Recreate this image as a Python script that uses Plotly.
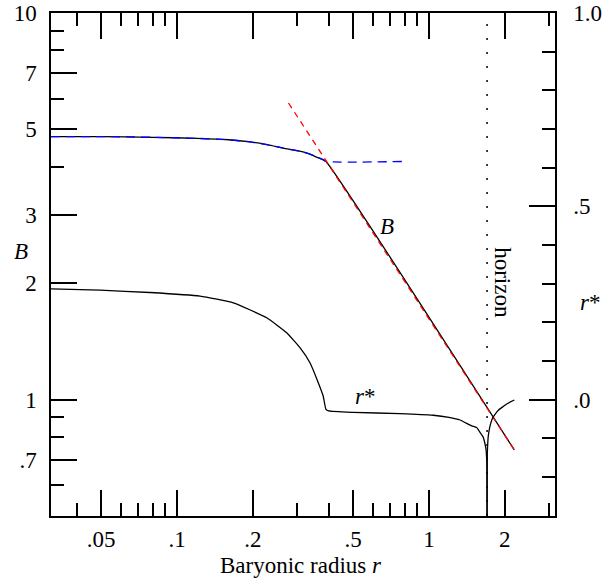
import plotly.graph_objects as go

# ---- data ----
# B curve (left axis, log): core part then 1/r power-law part
b_r = [0.0316, 0.05, 0.08, 0.12, 0.16, 0.195, 0.23, 0.264, 0.307, 0.335, 0.358, 0.375, 0.39, 2.18]
b_val = [4.79, 4.79, 4.77, 4.74, 4.70, 4.64, 4.56, 4.47, 4.39, 4.32, 4.24, 4.19, 4.13, 0.741]

# blue dashed: core model continued at constant B
core_r = [0.0316, 0.05, 0.08, 0.12, 0.16, 0.195, 0.23, 0.264, 0.307, 0.335, 0.358, 0.375, 0.39, 0.78]
core_val = [4.79, 4.79, 4.77, 4.74, 4.70, 4.64, 4.56, 4.47, 4.39, 4.32, 4.24, 4.19, 4.13, 4.13]

# red dashed: power-law asymptote
pl_r = [0.277, 2.18]
pl_val = [5.85, 0.741]

# r* curve (right axis, linear), left branch up to horizon
rs_r1 = [0.0316, 0.0495, 0.078, 0.1234, 0.1673, 0.227, 0.2724, 0.3076, 0.337, 0.3636,
         0.380, 0.390, 0.40, 0.5, 0.767, 1.04, 1.2, 1.327, 1.477, 1.545, 1.594, 1.643,
         1.658, 1.683, 1.694, 1.698, 1.6995]
rs_v1 = [0.2866, 0.283, 0.277, 0.2676, 0.2504, 0.2117, 0.173, 0.1343, 0.0955, 0.0439,
         0.010, -0.025, -0.0294, -0.033, -0.0362, -0.0405, -0.046, -0.0527, -0.068, -0.0723,
         -0.085, -0.098, -0.107, -0.128, -0.154, -0.22, -0.40]
# r* right branch beyond horizon
rs_r2 = [1.7005, 1.702, 1.704, 1.71, 1.719, 1.74, 1.762, 1.79, 1.828, 1.88, 1.943, 2.05, 2.18]
rs_v2 = [-0.40, -0.20, -0.137, -0.115, -0.094, -0.073, -0.059, -0.047, -0.038, -0.028,
         -0.0207, -0.010, -0.001]

horizon_r = 1.70
b_range = [0.5, 10]

x_ticks = [0.05, 0.1, 0.2, 0.5, 1, 2]
x_ticktext = [".05", ".1", ".2", ".5", "1", "2"]
x_minor = [0.04, 0.06, 0.07, 0.08, 0.09, 0.3, 0.4, 0.6, 0.7, 0.8, 0.9, 3]
y_ticks = [0.7, 1, 2, 3, 5, 7, 10]
y_ticktext = [".7", "1", "2", "3", "5", "7", "10"]
y_minor = [0.6, 0.8, 0.9, 4, 6, 8, 9]
y2_ticks = [0.0, 0.5, 1.0]
y2_ticktext = [".0", ".5", "1.0"]
y2_minor = [-0.2, -0.1, 0.1, 0.2, 0.3, 0.4, 0.6, 0.7, 0.8, 0.9]

FONT = "Liberation Serif"
FS = 23

fig = go.Figure()
fig.add_trace(go.Scatter(x=[horizon_r, horizon_r], y=b_range, mode="lines",
                         line=dict(color="black", width=1.5, dash="2px,12px"), yaxis="y"))
fig.add_trace(go.Scatter(x=b_r, y=b_val, mode="lines",
                         line=dict(color="black", width=1.3, shape="spline", smoothing=0.5), yaxis="y"))
fig.add_trace(go.Scatter(x=rs_r1, y=rs_v1, mode="lines",
                         line=dict(color="black", width=1.3, shape="spline", smoothing=0.4), yaxis="y2"))
fig.add_trace(go.Scatter(x=rs_r2, y=rs_v2, mode="lines",
                         line=dict(color="black", width=1.3, shape="spline", smoothing=0.4), yaxis="y2"))
fig.add_trace(go.Scatter(x=core_r, y=core_val, mode="lines",
                         line=dict(color="blue", width=1.3, dash="9px,6px", shape="spline", smoothing=0.5),
                         yaxis="y"))
fig.add_trace(go.Scatter(x=pl_r, y=pl_val, mode="lines",
                         line=dict(color="red", width=1.3, dash="6px,5px"), yaxis="y"))

axis_common = dict(showline=True, linecolor="black", linewidth=1.5, ticks="inside",
                   ticklen=26, tickwidth=1.5, tickcolor="black", showgrid=False, zeroline=False,
                   automargin=False,
                   tickfont=dict(family=FONT, size=FS, color="black"))

fig.update_layout(
    width=604, height=588, margin=dict(l=51, r=49, t=13, b=72, autoexpand=False),
    paper_bgcolor="white", plot_bgcolor="white", showlegend=False,
    font=dict(family=FONT, size=FS, color="black"),
    xaxis=dict(type="log", range=[-1.5, 0.5], tickmode="array", tickvals=x_ticks,
               ticktext=x_ticktext, mirror="ticks", ticklabelstandoff=2,
               minor=dict(tickmode="array", tickvals=x_minor, ticks="inside", ticklen=13,
                          tickwidth=1.5, tickcolor="black", showgrid=False),
               **axis_common),
    yaxis=dict(type="log", range=[-0.30103, 1], tickmode="array", tickvals=y_ticks,
               ticktext=y_ticktext, ticklabelstandoff=8,
               minor=dict(tickmode="array", tickvals=y_minor, ticks="inside", ticklen=13,
                          tickwidth=1.5, tickcolor="black", showgrid=False),
               **axis_common),
    yaxis2=dict(overlaying="y", side="right", range=[-0.30103, 1], tickmode="array",
                tickvals=y2_ticks, ticktext=y2_ticktext, ticklabelstandoff=12,
                minor=dict(tickmode="array", tickvals=y2_minor, ticks="inside", ticklen=13,
                           tickwidth=1.5, tickcolor="black", showgrid=False),
                **axis_common),
)

ann_font = dict(family=FONT, size=FS, color="black")
ann_common = dict(showarrow=False, font=ann_font, xanchor="center", yanchor="middle")
fig.add_annotation(x=-0.168, y=0.448, xref="x", yref="y", text="<i>B</i>", **ann_common)
fig.add_annotation(x=-0.254, y=0.0093, xref="x", yref="y", text="<i>r</i>*", **ann_common)
fig.add_annotation(x=0.2885, y=0.302, xref="x", yref="y", text="horizon", textangle=90, **ann_common)
fig.add_annotation(x=-0.060, y=0.3837, xref="paper", yref="y", text="<i>B</i>", **ann_common)
fig.add_annotation(x=1.0694, y=0.2512, xref="paper", yref="y", text="<i>r</i>*", **ann_common)
fig.add_annotation(x=0.497, y=-0.098, xref="paper", yref="paper", text="Baryonic radius <i>r</i>",
                   **ann_common)

fig.write_html("out.html", config={"displayModeBar": False},
               post_script="document.body.style.margin='0';document.body.style.padding='0';")
